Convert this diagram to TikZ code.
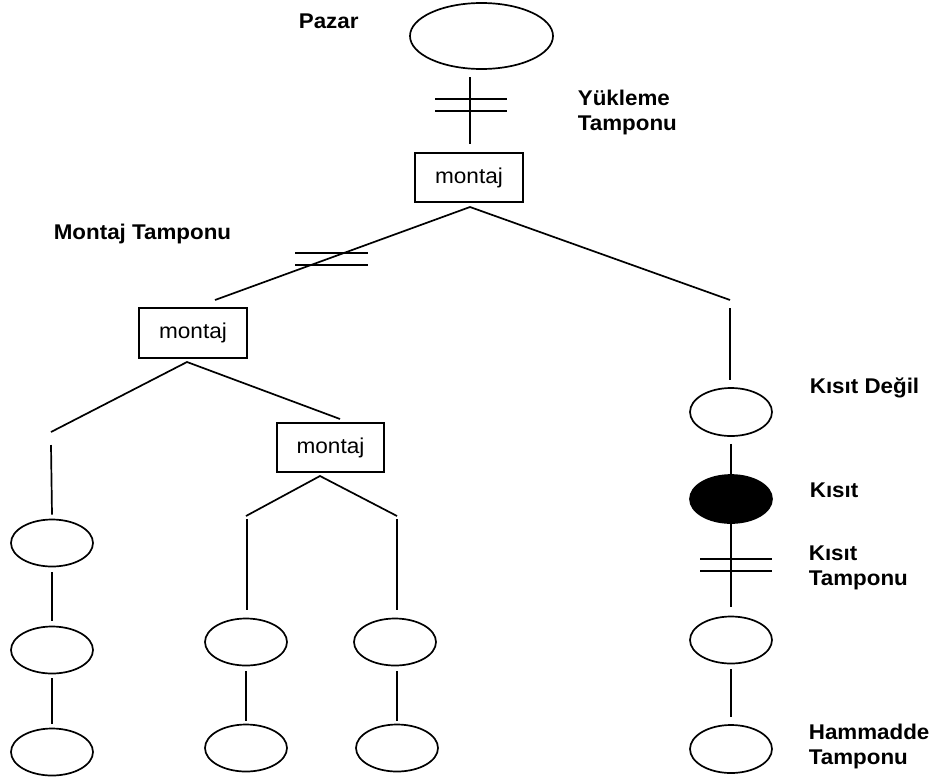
\documentclass[tikz,border=0pt]{standalone}
\usepackage{fontspec}
\setmainfont{Liberation Sans}[FakeStretch=1.05]
\usetikzlibrary{shapes.geometric}
\begin{document}
\begin{tikzpicture}[x=1pt,y=-1pt,line width=1.7pt,
  ell/.style={ellipse,draw,minimum width=82pt,minimum height=47pt,inner sep=0pt},
  box/.style={draw,minimum width=108pt,minimum height=49pt,inner sep=0pt,font=\fontsize{21.5}{25}\selectfont},
  lbl/.style={anchor=north west,inner sep=0pt,align=left,font=\fontsize{21.3}{25}\selectfont\bfseries},
  bar/.style={line width=1.7pt}]
\useasboundingbox (0,0) rectangle (933,782);

% top
\node[ell,minimum width=143pt,minimum height=66pt] (E0) at (481.5,36) {};
\node[box] (B1) at (469,177.5) {montaj};
\coordinate (t0) at (470,77);
\coordinate (t1) at (470,144);
\draw (t0) -- (t1);
\coordinate (yb1l) at (435,99); \coordinate (yb1r) at (507,99);
\coordinate (yb2l) at (435,111); \coordinate (yb2r) at (507,111);
\draw[bar] (yb1l) -- (yb1r);
\draw[bar] (yb2l) -- (yb2r);

% split under B1
\coordinate (a1) at (470,207);
\coordinate (j1l) at (215,300);
\coordinate (j1r) at (730,300);
\draw (j1l) -- (a1) -- (j1r);
\coordinate (mb1l) at (295,253); \coordinate (mb1r) at (368,253);
\coordinate (mb2l) at (295,265); \coordinate (mb2r) at (368,265);
\draw[bar] (mb1l) -- (mb1r);
\draw[bar] (mb2l) -- (mb2r);

% second level box
\node[box,minimum height=50pt] (B2) at (193,333) {montaj};
\coordinate (a2) at (187,362);
\coordinate (j2l) at (51,432);
\coordinate (j2r) at (340,419);
\draw (j2l) -- (a2) -- (j2r);
\node[box,minimum width=107pt] (B3) at (330.5,447.5) {montaj};
\coordinate (a3) at (320,476);
\coordinate (j3l) at (246,516);
\coordinate (j3r) at (397,516);
\draw (j3l) -- (a3) -- (j3r);

% left column
\node[ell] (L1) at (52,543) {};
\node[ell] (L2) at (52,650) {};
\node[ell] (L3) at (52,752) {};
\coordinate (l0) at (51,445);
\draw (l0) -- ([yshift=4pt]L1.north);
\draw ([yshift=-5pt]L1.south) -- ([yshift=5pt]L2.north);
\draw ([yshift=-4pt]L2.south) -- ([yshift=4pt]L3.north);

% middle columns
\node[ell] (M1) at (246,642) {};
\node[ell] (M2) at (246,748) {};
\node[ell] (N1) at (395,642) {};
\node[ell] (N2) at (397,748) {};
\coordinate (m0) at (247,519);
\coordinate (n0) at (397,519);
\draw (m0) -- (m0 |- 0,610);
\draw (n0) -- (n0 |- 0,610);
\draw ([yshift=-5pt]M1.south) -- ([yshift=3pt]M2.north);
\draw ([xshift=2pt,yshift=-5pt]N1.south) -- ([yshift=3pt]N2.north);

% right column
\node[ell,minimum height=48pt] (R1) at (731,412) {};
\node[ell,minimum height=48pt,fill=black] (R2) at (731,499) {};
\node[ell] (R3) at (731,640) {};
\node[ell,minimum height=48pt] (R4) at (731,749) {};
\coordinate (r0) at (730,308);
\draw (r0) -- (730,380);
\draw ([yshift=-7pt]R1.south) -- (R2.north);
\draw (R2.south) -- ([yshift=9pt]R3.north);
\coordinate (kb1l) at (700,559); \coordinate (kb1r) at (772,559);
\coordinate (kb2l) at (700,571); \coordinate (kb2r) at (772,571);
\draw[bar] (kb1l) -- (kb1r);
\draw[bar] (kb2l) -- (kb2r);
\draw ([yshift=-5pt]R3.south) -- ([yshift=7pt]R4.north);

% labels
\node[lbl] (pazar) at (298,13) {Pazar};
\node[lbl] (yuk) at (577,89) {Yükleme\\Tamponu};
\node[lbl] (mt) at (53,223) {Montaj Tamponu};
\node[lbl] (kd) at (809,377) {Kısıt Değil};
\node[lbl] (k) at (809,482) {Kısıt};
\node[lbl] (kt) at (808,545) {Kısıt\\Tamponu};
\node[lbl] (ht) at (808,723) {Hammadde\\Tamponu};
\end{tikzpicture}
\end{document}
